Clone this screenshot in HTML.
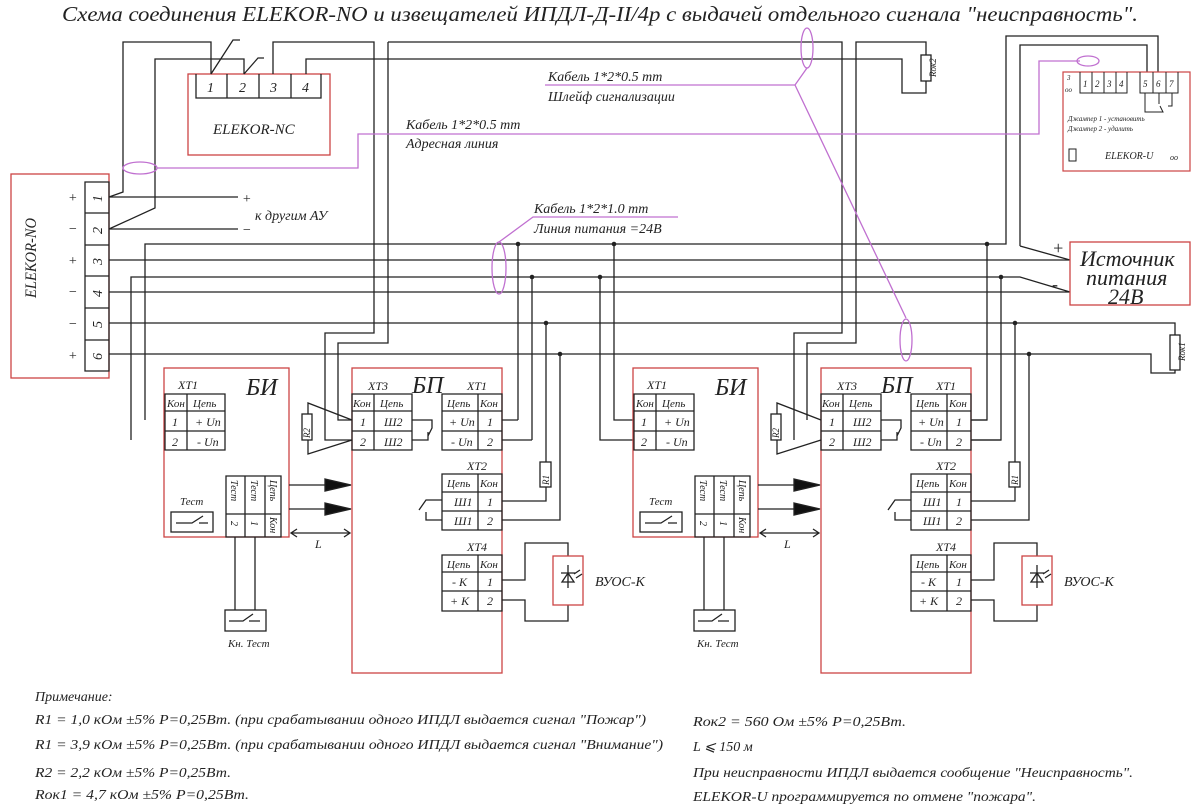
<!DOCTYPE html>
<html><head><meta charset="utf-8"><style>
body{margin:0;background:#fff}
svg{display:block}
text{font-family:"Liberation Serif","DejaVu Serif",serif;font-style:italic;fill:#222}
</style></head><body>
<svg width="1200" height="808" viewBox="0 0 1200 808" xmlns="http://www.w3.org/2000/svg">
<defs>
<g id="mod" stroke="#222" stroke-width="1.3" fill="none">
  <rect x="164" y="368" width="125" height="169" stroke="#c44"/>
  <path d="M165 394H225V450H165ZM187 394V450M165 411H225M165 431H225"/>
  <path d="M226 476H281V537H226ZM245 476V537M265 476V537M226 514H281"/>
  <rect x="171" y="512" width="42" height="20"/>
  <path d="M176 523H192L203 516M199 523H208"/>
  <path d="M235 537V610M255 537V610"/>
  <rect x="225" y="610" width="41" height="21"/>
  <path d="M229 621H243L253 614M249 621H260"/>
  <path d="M289 485H325M289 509H325"/>
  <path d="M325 479L351 485L325 491ZM325 503L351 509L325 515Z" fill="#111"/>
  <path d="M291 533H350M297 529L291 533L297 537M344 529L350 533L344 537"/>
  <rect x="352" y="368" width="150" height="305" stroke="#c44"/>
  <path d="M352 394H412V450H352ZM374 394V450M352 411H412M352 431H412"/>
  <path d="M412 420H432V428L428 436M412 440H428V432"/>
  <path d="M352 420L308 403V414M308 440V454L352 440"/>
  <rect x="302" y="414" width="10" height="26" fill="#fff"/>
  <path d="M442 394H502V450H442ZM478 394V450M442 411H502M442 431H502"/>
  <path d="M502 420H518M502 440H532"/>
  <path d="M442 474H502V530H442ZM478 474V530M442 492H502M442 511H502"/>
  <path d="M442 500H426L419 510M442 520H426V512"/>
  <path d="M546 462V322M546 487V501H502M560 354V520H502"/>
  <rect x="540" y="462" width="11" height="25" fill="#fff"/>
  <path d="M442 555H502V611H442ZM478 555V611M442 572H502M442 591H502"/>
  <path d="M502 580H525V543H568V556M502 600H525V621H568V605"/>
  <rect x="553" y="556" width="30" height="49" stroke="#c44"/>
  <path d="M561 573H575M568 565V588M562 582H574L568 573Z M574 574L580 570M576 578L582 574"/>
</g>
<g id="modtxt" font-size="12">
  <text x="246" y="395" font-size="24">БИ</text>
  <text x="178" y="389">XT1</text>
  <text x="167" y="407" font-size="11">Кон</text><text x="193" y="407" font-size="11">Цепь</text>
  <text x="172" y="426">1</text><text x="195" y="426">+ Un</text>
  <text x="172" y="446">2</text><text x="197" y="446">- Un</text>
  <text x="180" y="505" font-size="11">Тест</text>
  <text x="231" y="480" font-size="10" transform="rotate(90 231 480)">Тест</text>
  <text x="251" y="480" font-size="10" transform="rotate(90 251 480)">Тест</text>
  <text x="270" y="480" font-size="10" transform="rotate(90 270 480)">Цепь</text>
  <text x="231" y="521" font-size="10" transform="rotate(90 231 521)">2</text>
  <text x="251" y="521" font-size="10" transform="rotate(90 251 521)">1</text>
  <text x="270" y="517" font-size="10" transform="rotate(90 270 517)">Кон</text>
  <text x="228" y="647" font-size="11">Кн. Тест</text>
  <text x="315" y="548">L</text>
  <text x="412" y="393" font-size="24">БП</text>
  <text x="368" y="390">XT3</text>
  <text x="353" y="407" font-size="11">Кон</text><text x="380" y="407" font-size="11">Цепь</text>
  <text x="360" y="426">1</text><text x="384" y="426">Ш2</text>
  <text x="360" y="446">2</text><text x="384" y="446">Ш2</text>
  <text x="467" y="390">XT1</text>
  <text x="447" y="407" font-size="11">Цепь</text><text x="480" y="407" font-size="11">Кон</text>
  <text x="449" y="426">+ Un</text><text x="487" y="426">1</text>
  <text x="451" y="446">- Un</text><text x="487" y="446">2</text>
  <text x="467" y="470">XT2</text>
  <text x="447" y="487" font-size="11">Цепь</text><text x="480" y="487" font-size="11">Кон</text>
  <text x="454" y="506">Ш1</text><text x="487" y="506">1</text>
  <text x="454" y="525">Ш1</text><text x="487" y="525">2</text>
  <text x="467" y="551">XT4</text>
  <text x="447" y="568" font-size="11">Цепь</text><text x="480" y="568" font-size="11">Кон</text>
  <text x="452" y="586">- К</text><text x="487" y="586">1</text>
  <text x="450" y="605">+ К</text><text x="487" y="605">2</text>
  <text x="540" y="476" font-size="9" transform="rotate(-90 549 476)">R1</text>
  <text x="302" y="430" font-size="9" transform="rotate(-90 310 430)">R2</text>
  <text x="595" y="586" font-size="14">ВУОС-К</text>
</g>
</defs>

<text x="62" y="21" font-size="21" textLength="1076" lengthAdjust="spacingAndGlyphs">Схема соединения ELEKOR-NO и извещателей ИПДЛ-Д-II/4р с выдачей отдельного сигнала "неисправность".</text>

<g stroke="#222" stroke-width="1.3" fill="none">
  <rect x="11" y="174" width="98" height="204" stroke="#c44"/>
  <path d="M85 182H109V371H85ZM85 213H109M85 245H109M85 276H109M85 308H109M85 340H109"/>
  <rect x="188" y="74" width="142" height="81" stroke="#c44"/>
  <path d="M196 74V98H321V74M227 74V98M259 74V98M291 74V98"/>
  <path d="M109 197L123 192V42H211V74M211 74L233 40H240M109 229L155 208V59H244V74M244 74L258 58H264"/>
  <path d="M109 197H238M109 229H238"/>
  <path d="M273 74V42H374V333H325V440H352M306 74V59H902V93H926V42H856V343H807V420"/>
  <path d="M388 42V343H338V420H352M388 42H842V333H794V440"/>
  <path d="M131 440V277H1020L1070 292M145 420V244H1006V36H1158V72M109 260H1070M109 292H1070M109 323H1175V335M1175 370V373H1151V354H109"/>
  <path d="M1020 246V45H1147V72M1020 246L1070 260"/>
  <path d="M518 244V420M532 277V440M614 244V420H634M600 277V440H634"/>
  <path d="M987 244V420H971M1001 277V440H971"/>
  <rect x="1170" y="335" width="10" height="35" fill="#fff"/>
  <rect x="921" y="55" width="10" height="26" fill="#fff"/>
  <rect x="1070" y="242" width="120" height="63" stroke="#c44"/>
  <rect x="1063" y="72" width="127" height="99" stroke="#c44" stroke-width="1.2"/>
  <path d="M1080 72V93H1127V72M1092 72V93M1104 72V93M1116 72V93M1140 72V93H1178V72M1153 72V93M1166 72V93" stroke-width="1"/>
  <path d="M1145 93V112H1163L1160 106M1159 93V104M1172 93V106H1168" stroke-width="1"/>
  <rect x="1069" y="149" width="7" height="12" stroke-width="1"/>
</g>
<g fill="#222">
  <circle cx="518" cy="244" r="2.3"/><circle cx="532" cy="277" r="2.3"/><circle cx="546" cy="323" r="2.3"/><circle cx="560" cy="354" r="2.3"/>
  <circle cx="614" cy="244" r="2.3"/><circle cx="600" cy="277" r="2.3"/>
  <circle cx="987" cy="244" r="2.3"/><circle cx="1001" cy="277" r="2.3"/><circle cx="1015" cy="323" r="2.3"/><circle cx="1029" cy="354" r="2.3"/>
</g>
<use href="#mod"/>
<use href="#mod" transform="translate(469 0)"/>
<use href="#modtxt"/>
<use href="#modtxt" transform="translate(469 0)"/>

<g stroke="#c070d0" stroke-width="1.3" fill="none">
  <ellipse cx="140" cy="168" rx="17" ry="6"/>
  <path d="M157 168H358V134H1039V61H1080"/>
  <ellipse cx="1088" cy="61" rx="11" ry="5"/>
  <ellipse cx="807" cy="48" rx="6" ry="20"/>
  <path d="M807 68L795 85H545M795 85L906 318"/>
  <ellipse cx="906" cy="340" rx="6" ry="21"/>
  <ellipse cx="499" cy="268" rx="7" ry="26"/>
  <path d="M499 242L533 217H678"/>
</g>

<g font-size="14">
  <text x="36" y="298" font-size="16" transform="rotate(-90 36 298)" textLength="80" lengthAdjust="spacingAndGlyphs">ELEKOR-NO</text>
  <text x="68" y="202">+</text><text x="68" y="233">−</text><text x="68" y="265">+</text><text x="68" y="296">−</text><text x="68" y="328">−</text><text x="68" y="360">+</text>
  <text x="92" y="202" transform="rotate(-90 97 197)">1</text>
  <text x="92" y="234" transform="rotate(-90 97 229)">2</text>
  <text x="92" y="265" transform="rotate(-90 97 260)">3</text>
  <text x="92" y="297" transform="rotate(-90 97 292)">4</text>
  <text x="92" y="328" transform="rotate(-90 97 323)">5</text>
  <text x="92" y="360" transform="rotate(-90 97 355)">6</text>
  <text x="207" y="92">1</text><text x="239" y="92">2</text><text x="270" y="92">3</text><text x="302" y="92">4</text>
  <text x="213" y="134" font-size="15">ELEKOR-NC</text>
  <text x="242" y="203">+</text><text x="242" y="234">−</text>
  <text x="255" y="220">к другим АУ</text>
  <text x="548" y="81">Кабель 1*2*0.5 mm</text>
  <text x="548" y="101">Шлейф сигнализации</text>
  <text x="406" y="129">Кабель 1*2*0.5 mm</text>
  <text x="406" y="148">Адресная линия</text>
  <text x="534" y="213">Кабель 1*2*1.0 mm</text>
  <text x="534" y="233">Линия питания =24В</text>
  <text x="1052" y="254" font-size="18">+</text>
  <text x="1052" y="290" font-size="18">-</text>
  <text x="1080" y="266" font-size="22">Источник</text>
  <text x="1086" y="285" font-size="22">питания</text>
  <text x="1108" y="304" font-size="22">24В</text>
  <text x="917" y="78" font-size="9" transform="rotate(-90 926 68)">Rок2</text>
  <text x="1166" y="362" font-size="9" transform="rotate(-90 1175 352)">Rок1</text>
  <g font-size="9"><text x="1083" y="87">1</text><text x="1095" y="87">2</text><text x="1107" y="87">3</text><text x="1119" y="87">4</text><text x="1143" y="87">5</text><text x="1156" y="87">6</text><text x="1169" y="87">7</text>
  <text x="1067" y="80" font-size="7">3</text><text x="1065" y="92" font-size="7">oo</text>
  <text x="1068" y="121" font-size="7">Джампер 1 - установить</text>
  <text x="1068" y="131" font-size="7">Джампер 2 - удалить</text>
  <text x="1105" y="159" font-size="10">ELEKOR-U</text>
  <text x="1170" y="160" font-size="8">oo</text></g>
</g>

<g font-size="14">
  <text x="35" y="701">Примечание:</text>
  <text x="35" y="724" textLength="611" lengthAdjust="spacingAndGlyphs">R1 = 1,0 кОм  ±5%  P=0,25Вт. (при срабатывании одного ИПДЛ выдается сигнал "Пожар")</text>
  <text x="35" y="749" textLength="628" lengthAdjust="spacingAndGlyphs">R1 = 3,9 кОм  ±5%  P=0,25Вт. (при срабатывании одного ИПДЛ выдается сигнал "Внимание")</text>
  <text x="35" y="777" textLength="196" lengthAdjust="spacingAndGlyphs">R2 = 2,2 кОм  ±5%  P=0,25Вт.</text>
  <text x="35" y="799" textLength="214" lengthAdjust="spacingAndGlyphs">Rок1 = 4,7 кОм  ±5%  P=0,25Вт.</text>
  <text x="693" y="726" textLength="213" lengthAdjust="spacingAndGlyphs">Rок2 = 560 Ом  ±5%  P=0,25Вт.</text>
  <text x="693" y="751">L  ⩽  150 м</text>
  <text x="693" y="777" textLength="440" lengthAdjust="spacingAndGlyphs">При неисправности ИПДЛ выдается сообщение "Неисправность".</text>
  <text x="693" y="801" textLength="343" lengthAdjust="spacingAndGlyphs">ELEKOR-U программируется по отмене "пожара".</text>
</g>
</svg>
</body></html>
